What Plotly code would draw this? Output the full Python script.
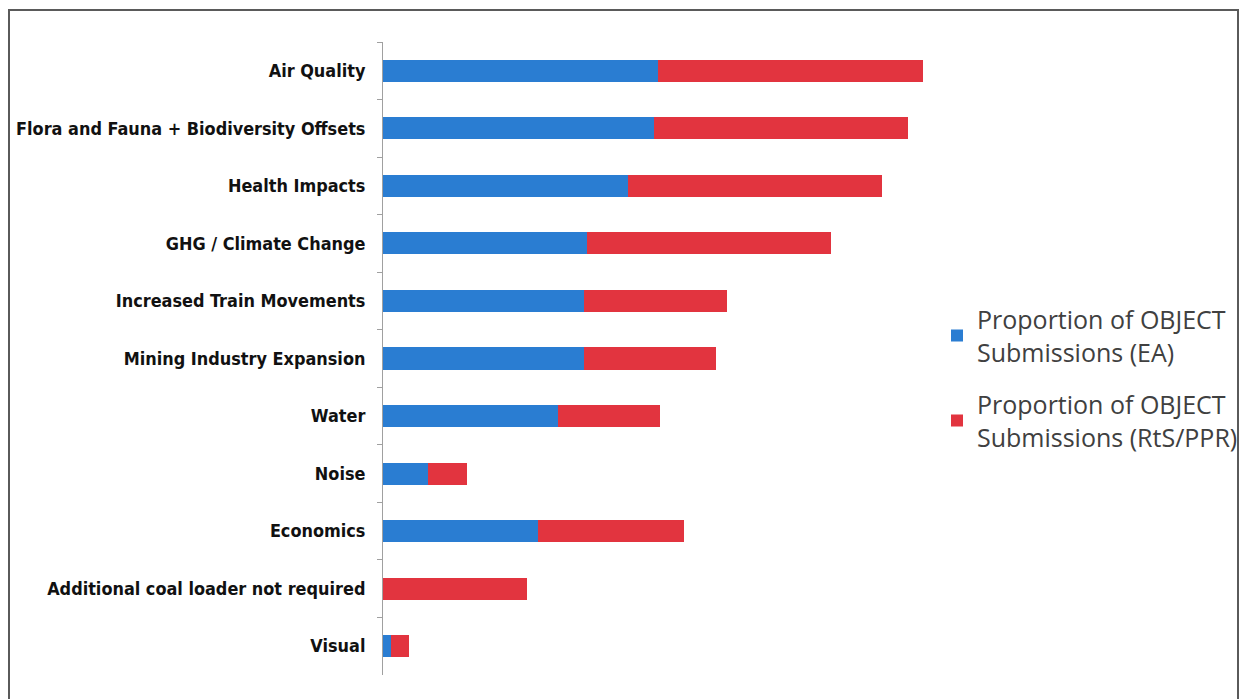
import plotly.graph_objects as go

categories = [
    "Air Quality",
    "Flora and Fauna + Biodiversity Offsets",
    "Health Impacts",
    "GHG / Climate Change",
    "Increased Train Movements",
    "Mining Industry Expansion",
    "Water",
    "Noise",
    "Economics",
    "Additional coal loader not required",
    "Visual",
]
ea_values = [27.5, 27.1, 24.5, 20.4, 20.1, 20.1, 17.5, 4.5, 15.5, 0.0, 0.8]
rts_values = [26.5, 25.4, 25.4, 24.4, 14.3, 13.2, 10.2, 3.9, 14.6, 14.4, 1.8]
series_names = [
    "Proportion of OBJECT<br>Submissions (EA)",
    "Proportion of OBJECT<br>Submissions (RtS/PPR)",
]

W, H = 1243, 699
L, R, T, B = 383, 943, 42, 675

fig = go.Figure()
fig.add_trace(go.Bar(y=categories, x=ea_values, orientation="h", name=series_names[0],
                     legendgroup="ea",
                     marker=dict(color="#2a7dd2", line=dict(width=0))))
fig.add_trace(go.Bar(y=categories, x=rts_values, orientation="h", name=series_names[1],
                     legendgroup="rts",
                     marker=dict(color="#e2343f", line=dict(width=0))))

label_font = dict(family="DejaVu Sans Condensed, Arial Narrow, sans-serif",
                  size=17.9, color="#111111", weight="bold")

pw = R - L
ph = B - T
def px_x(x):
    return (x - L) / pw
def px_y(y):
    return 1 - (y - T) / ph

fig.update_layout(
    width=W, height=H,
    margin=dict(l=L, r=W - R, t=T, b=H - B, pad=0, autoexpand=False),
    paper_bgcolor="white", plot_bgcolor="white",
    barmode="stack", bargap=0.617,
    showlegend=True,
    legend=dict(x=px_x(937), xanchor="left", y=px_y(378), yanchor="middle",
                traceorder="grouped", tracegroupgap=17,
                font=dict(family="Open Sans, Liberation Sans, sans-serif", size=25, color="#404040"),
                itemwidth=30, bgcolor="rgba(0,0,0,0)"),
    xaxis=dict(range=[0, 56], showgrid=False, showline=False, showticklabels=False,
               zeroline=False, ticks="", automargin=False),
    yaxis=dict(autorange="reversed", showgrid=False, showline=True, linecolor="#a0a0a0",
               linewidth=1, ticks="outside", ticklen=5, tickcolor="#a0a0a0",
               tickson="boundaries", tickfont=label_font, ticklabelstandoff=13,
               automargin=False),
    shapes=[dict(type="rect", xref="paper", yref="paper",
                 x0=px_x(9), x1=px_x(1238), y0=px_y(712), y1=px_y(10),
                 line=dict(color="#5a5a5a", width=2), fillcolor="rgba(0,0,0,0)", layer="below")],
)

fig.write_html("out.html")
